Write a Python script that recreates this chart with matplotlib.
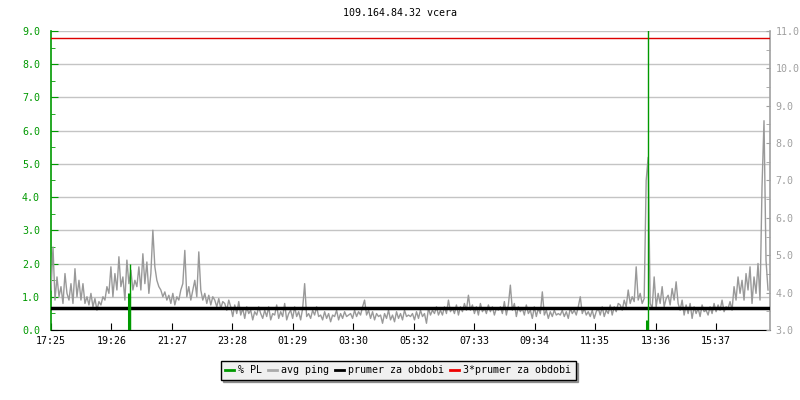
import numpy as np
import matplotlib
matplotlib.use("Agg")
import matplotlib.pyplot as plt
from matplotlib.ticker import MultipleLocator, FormatStrFormatter

plt.rcParams['font.family'] = ['DejaVu Sans Mono']

title = "109.164.84.32 vcera"
start_label = "17:25"
tick_labels = ["17:25", "19:26", "21:27", "23:28", "01:29", "03:30",
               "05:32", "07:33", "09:34", "11:35", "13:36", "15:37"]
step_min = 4  # one sample every 4 minutes

# avg ping [ms], 15 samples per hour, starting 17:25
avg_ping = [
    4.07, 5.22, 3.80, 4.42, 3.89, 4.16, 3.71, 4.51, 3.98, 3.80, 4.24, 3.71, 4.64, 3.89, 4.33,
    3.80, 4.24, 3.71, 3.89, 3.67, 3.98, 3.62, 3.84, 3.53, 3.76, 3.67, 3.89, 3.80, 4.16, 3.98,
    4.69, 3.89, 4.51, 4.07, 4.96, 4.16, 4.42, 3.80, 4.87, 4.24, 4.60, 4.07, 4.33, 4.16, 4.69,
    4.07, 5.04, 4.24, 4.82, 3.98, 4.51, 5.67, 4.69, 4.33, 4.16, 4.07, 3.89, 4.02, 3.80, 3.93,
    3.71, 3.98, 3.67, 3.89, 3.80, 4.07, 4.24, 5.13, 3.89, 4.16, 3.80, 4.07, 4.33, 3.89, 5.09,
    4.07, 3.80, 3.98, 3.71, 3.93, 3.67, 3.89, 3.80, 3.62, 3.84, 3.58, 3.76, 3.71, 3.53, 3.80,
    3.62, 3.36, 3.67, 3.44, 3.76, 3.40, 3.58, 3.31, 3.62, 3.44, 3.53, 3.27, 3.49, 3.40, 3.62,
    3.44, 3.31, 3.53, 3.36, 3.62, 3.27, 3.44, 3.40, 3.67, 3.31, 3.49, 3.36, 3.71, 3.27, 3.44,
    3.53, 3.31, 3.62, 3.36, 3.49, 3.27, 3.58, 4.24, 3.36, 3.44, 3.31, 3.53, 3.40, 3.62, 3.36,
    3.40, 3.27, 3.49, 3.31, 3.44, 3.22, 3.40, 3.36, 3.53, 3.27, 3.44, 3.31, 3.49, 3.36, 3.40,
    3.44, 3.31, 3.53, 3.36, 3.49, 3.40, 3.62, 3.80, 3.40, 3.53, 3.31, 3.49, 3.27, 3.44, 3.36,
    3.40, 3.18, 3.44, 3.31, 3.53, 3.27, 3.40, 3.22, 3.49, 3.31, 3.44, 3.27, 3.53, 3.36, 3.40,
    3.36, 3.44, 3.27, 3.49, 3.31, 3.53, 3.36, 3.44, 3.18, 3.58, 3.40, 3.53, 3.44, 3.62, 3.40,
    3.53, 3.40, 3.62, 3.44, 3.80, 3.49, 3.58, 3.44, 3.67, 3.40, 3.62, 3.49, 3.71, 3.53, 3.93,
    3.53, 3.67, 3.44, 3.62, 3.40, 3.71, 3.49, 3.58, 3.44, 3.67, 3.49, 3.62, 3.40, 3.58, 3.53,
    3.62, 3.44, 3.76, 3.40, 3.67, 4.20, 3.53, 3.71, 3.36, 3.62, 3.49, 3.58, 3.40, 3.67, 3.44,
    3.53, 3.31, 3.62, 3.36, 3.58, 3.44, 4.02, 3.40, 3.53, 3.31, 3.49, 3.36, 3.53, 3.40, 3.44,
    3.40, 3.53, 3.36, 3.49, 3.31, 3.58, 3.44, 3.53, 3.40, 3.62, 3.89, 3.44, 3.58, 3.40, 3.49,
    3.36, 3.53, 3.31, 3.49, 3.58, 3.40, 3.62, 3.36, 3.53, 3.44, 3.67, 3.40, 3.62, 3.49, 3.71,
    3.67, 3.53, 3.80, 3.62, 4.07, 3.71, 3.89, 3.76, 4.69, 3.80, 3.98, 3.71, 3.84, 7.00, 7.62,
    3.71, 3.58, 4.42, 3.62, 3.98, 3.71, 4.16, 3.62, 3.84, 3.93, 3.67, 4.11, 3.80, 4.29, 3.71,
    3.53, 3.80, 3.40, 3.67, 3.44, 3.71, 3.31, 3.62, 3.44, 3.58, 3.36, 3.67, 3.49, 3.53, 3.40,
    3.62, 3.44, 3.71, 3.49, 3.67, 3.53, 3.80, 3.49, 3.62, 3.58, 3.76, 3.53, 4.16, 3.80, 4.42,
    3.98, 4.33, 3.80, 4.51, 4.07, 4.69, 3.71, 4.42, 3.98, 4.78, 3.80, 6.82, 8.60, 4.87, 4.07,
]

# packet loss events: minutes after start, % PL
pl_minutes = [156, 158, 1194, 1196]
pl_values = [1.1, 2.0, 0.3, 20.0]
pl_widths = [2.2, 1.0, 2.2, 1.0]

prumer = 3.60  # average ping [ms]

GREEN = "#009900"
GRAY = "#999999"
AXGRAY = "#a0a0a0"
FS = 7.2

def to_min(lbl):
    h, m = map(int, lbl.split(":"))
    h0, m0 = map(int, start_label.split(":"))
    return ((h * 60 + m) - (h0 * 60 + m0)) % 1440

fig = plt.figure(figsize=(8, 4), dpi=100)
ax = fig.add_axes([51 / 800, 70 / 400, 719 / 800, 299 / 400])
ax2 = ax.twinx()

ping = np.array(avg_ping)
t = np.arange(len(ping)) * step_min

# left axis: % PL 0..9 ; right axis: ms 3..11
ax.set_xlim(0, 1440)
ax.set_ylim(0, 9)
ax2.set_ylim(3, 11)

for a in (ax, ax2):
    a.yaxis.set_major_locator(MultipleLocator(1))
    a.yaxis.set_minor_locator(MultipleLocator(0.5))
    a.yaxis.set_major_formatter(FormatStrFormatter("%.1f"))

ax.grid(axis='y', color="#c4c4c4", linewidth=1.0)
ax.set_axisbelow(True)

ax.set_xticks([to_min(l) for l in tick_labels])
ax.set_xticklabels(tick_labels)

ax.spines['top'].set_visible(False)
ax2.spines['top'].set_visible(False)
ax.spines['left'].set_color(GREEN)
ax.spines['right'].set_visible(False)
ax2.spines['left'].set_visible(False)
ax2.spines['bottom'].set_visible(False)
ax2.spines['right'].set_color(AXGRAY)
ax.spines['bottom'].set_color('black')
ax.spines['left'].set_linewidth(1.2)
ax2.spines['right'].set_linewidth(1.2)

ax.tick_params(axis='y', which='both', direction='in', colors=GREEN, labelsize=FS, pad=8)
ax.tick_params(axis='y', which='major', length=5)
ax.tick_params(axis='y', which='minor', length=3)
ax2.tick_params(axis='y', which='both', direction='in', colors=AXGRAY, labelsize=FS, pad=4)
ax2.tick_params(axis='y', which='major', length=3)
ax2.tick_params(axis='y', which='minor', length=3)
ax.tick_params(axis='x', direction='in', length=5, colors='black', labelsize=FS, pad=4)

# ping on right axis
ax2.plot(t, ping, color=GRAY, linewidth=1.0, zorder=2)
ax2.axhline(prumer, color='black', linewidth=2.5, zorder=3)
ax2.axhline(3 * prumer, color='#dd0000', linewidth=1.0, zorder=3)

# PL on left axis (drawn on top)
ax3 = ax.twinx()
ax3.set_ylim(0, 9)
ax3.axis('off')
for m, v, w in zip(pl_minutes, pl_values, pl_widths):
    ax3.vlines(m, 0, v, color=GREEN, linewidth=w, zorder=4)
ax3.set_xlim(0, 1440)
ax2.set_xlim(0, 1440)

fig.text(0.5, 1 - 13 / 400, title, ha='center', va='center', fontsize=FS)

handles = [
    plt.Line2D([], [], color=GREEN, linewidth=2),
    plt.Line2D([], [], color="#aaaaaa", linewidth=2),
    plt.Line2D([], [], color='black', linewidth=2),
    plt.Line2D([], [], color='#ee0000', linewidth=2),
]
labels = ["% PL", "avg ping", "prumer za obdobi", "3*prumer za obdobi"]
leg = fig.legend(handles, labels, loc='center', bbox_to_anchor=(398 / 800, 1 - 370 / 400),
                 ncol=4, fontsize=FS, handlelength=0.9, handletextpad=0.4,
                 columnspacing=0.6, fancybox=False, shadow=True, framealpha=1,
                 borderpad=0.45, borderaxespad=0)
leg.get_frame().set_edgecolor('black')
leg.get_frame().set_facecolor('#f0f0f0')
leg.get_frame().set_linewidth(1.0)

fig.savefig("out.png", dpi=100)
